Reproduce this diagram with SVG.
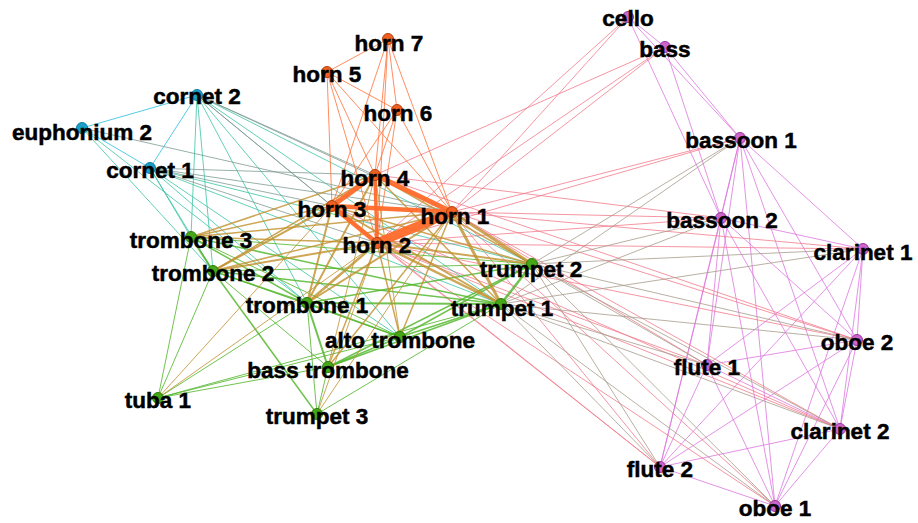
<svg xmlns="http://www.w3.org/2000/svg" width="918" height="523" viewBox="0 0 918 523">
<style>
line{stroke-width:1;stroke-opacity:.8;stroke-linecap:round}
.cc{stroke:#2bbfe0}
.cg{stroke:#3cc4a4}
.co{stroke:#7f9c94}
.oo{stroke:#ff7038}
.ot{stroke:#ff6a2a;stroke-opacity:.95}
.og{stroke:#c0902c}
.gg{stroke:#4cb424}
.op{stroke:#f27c8c}
.gp{stroke:#a89c8c}
.pp{stroke:#dd77e0}
circle{stroke-width:1}
.nc{fill:#1aa0c8;stroke:#0e7ea0}
.no{fill:#f06020;stroke:#b04010}
.ng{fill:#46a818;stroke:#2e7a0a}
.np{fill:#cc66cc;stroke:#993399}
text{font-family:"Liberation Sans",Arial,sans-serif;font-weight:bold;font-size:22.5px;text-anchor:middle;fill:#000;stroke:#000;stroke-width:.5}
</style>
<rect width="918" height="523" fill="#fff"/>
<g id="connectors">
<!-- pink internal -->
<line class="pp" x1="628" y1="17" x2="665" y2="47"/>
<line class="pp" x1="628" y1="17" x2="740" y2="138"/>
<line class="pp" x1="628" y1="17" x2="721" y2="218"/>
<line class="pp" x1="665" y1="47" x2="740" y2="138"/>
<line class="pp" x1="665" y1="47" x2="721" y2="218"/>
<line class="pp" x1="740" y1="138" x2="721" y2="218"/>
<line class="pp" x1="740" y1="138" x2="863" y2="249"/>
<line class="pp" x1="740" y1="138" x2="857" y2="340"/>
<line class="pp" x1="740" y1="138" x2="707" y2="365"/>
<line class="pp" x1="740" y1="138" x2="840" y2="429"/>
<line class="pp" x1="740" y1="138" x2="660" y2="467"/>
<line class="pp" x1="740" y1="138" x2="775" y2="506"/>
<line class="pp" x1="721" y1="218" x2="863" y2="249"/>
<line class="pp" x1="721" y1="218" x2="857" y2="340"/>
<line class="pp" x1="721" y1="218" x2="707" y2="365"/>
<line class="pp" x1="721" y1="218" x2="840" y2="429"/>
<line class="pp" x1="721" y1="218" x2="660" y2="467"/>
<line class="pp" x1="721" y1="218" x2="775" y2="506"/>
<line class="pp" x1="863" y1="249" x2="857" y2="340"/>
<line class="pp" x1="863" y1="249" x2="707" y2="365"/>
<line class="pp" x1="863" y1="249" x2="840" y2="429"/>
<line class="pp" x1="863" y1="249" x2="660" y2="467"/>
<line class="pp" x1="863" y1="249" x2="775" y2="506"/>
<line class="pp" x1="857" y1="340" x2="707" y2="365"/>
<line class="pp" x1="857" y1="340" x2="840" y2="429"/>
<line class="pp" x1="857" y1="340" x2="660" y2="467"/>
<line class="pp" x1="857" y1="340" x2="775" y2="506"/>
<line class="pp" x1="707" y1="365" x2="840" y2="429"/>
<line class="pp" x1="707" y1="365" x2="660" y2="467"/>
<line class="pp" x1="707" y1="365" x2="775" y2="506"/>
<line class="pp" x1="840" y1="429" x2="660" y2="467"/>
<line class="pp" x1="840" y1="429" x2="775" y2="506"/>
<line class="pp" x1="660" y1="467" x2="775" y2="506"/>
<!-- horn-pink -->
<line class="op" x1="452" y1="212" x2="628" y2="17"/>
<line class="op" x1="452" y1="212" x2="665" y2="47"/>
<line class="op" x1="452" y1="212" x2="740" y2="138"/>
<line class="op" x1="452" y1="212" x2="721" y2="218"/>
<line class="op" x1="452" y1="212" x2="863" y2="249"/>
<line class="op" x1="452" y1="212" x2="857" y2="340"/>
<line class="op" x1="452" y1="212" x2="707" y2="365"/>
<line class="op" x1="452" y1="212" x2="840" y2="429"/>
<line class="op" x1="452" y1="212" x2="660" y2="467"/>
<line class="op" x1="452" y1="212" x2="775" y2="506"/>
<line class="op" x1="377" y1="243" x2="628" y2="17"/>
<line class="op" x1="377" y1="243" x2="665" y2="47"/>
<line class="op" x1="377" y1="243" x2="740" y2="138"/>
<line class="op" x1="377" y1="243" x2="721" y2="218"/>
<line class="op" x1="377" y1="243" x2="863" y2="249"/>
<line class="op" x1="377" y1="243" x2="857" y2="340"/>
<line class="op" x1="377" y1="243" x2="707" y2="365"/>
<line class="op" x1="377" y1="243" x2="840" y2="429"/>
<line class="op" x1="377" y1="243" x2="660" y2="467"/>
<line class="op" x1="377" y1="243" x2="775" y2="506"/>
<line class="op" x1="375" y1="175" x2="665" y2="47"/>
<line class="op" x1="375" y1="175" x2="721" y2="218"/>
<line class="op" x1="375" y1="175" x2="857" y2="340"/>
<line class="op" x1="332" y1="206" x2="840" y2="429"/>
<line class="op" x1="332" y1="206" x2="660" y2="467"/>
<!-- trumpet-pink -->
<line class="gp" x1="532" y1="264" x2="740" y2="138"/>
<line class="gp" x1="532" y1="264" x2="721" y2="218"/>
<line class="gp" x1="532" y1="264" x2="863" y2="249"/>
<line class="gp" x1="532" y1="264" x2="857" y2="340"/>
<line class="gp" x1="532" y1="264" x2="707" y2="365"/>
<line class="gp" x1="532" y1="264" x2="840" y2="429"/>
<line class="gp" x1="532" y1="264" x2="660" y2="467"/>
<line class="gp" x1="532" y1="264" x2="775" y2="506"/>
<line class="gp" x1="501" y1="304" x2="740" y2="138"/>
<line class="gp" x1="501" y1="304" x2="721" y2="218"/>
<line class="gp" x1="501" y1="304" x2="863" y2="249"/>
<line class="gp" x1="501" y1="304" x2="857" y2="340"/>
<line class="gp" x1="501" y1="304" x2="707" y2="365"/>
<line class="gp" x1="501" y1="304" x2="840" y2="429"/>
<line class="gp" x1="501" y1="304" x2="660" y2="467"/>
<line class="gp" x1="501" y1="304" x2="775" y2="506"/>
<!-- cyan -->
<line class="cc" x1="197" y1="95" x2="82" y2="128"/>
<line class="cc" x1="197" y1="95" x2="150" y2="168"/>
<line class="cc" x1="82" y1="128" x2="150" y2="168"/>
<line class="cg" x1="197" y1="95" x2="191" y2="237"/>
<line class="cg" x1="197" y1="95" x2="213" y2="271"/>
<line class="cg" x1="197" y1="95" x2="307" y2="303"/>
<line class="cg" x1="197" y1="95" x2="532" y2="264"/>
<line class="cg" x1="197" y1="95" x2="501" y2="304"/>
<line class="cg" x1="197" y1="95" x2="400" y2="337"/>
<line class="cg" x1="150" y1="168" x2="191" y2="237"/>
<line class="cg" x1="150" y1="168" x2="213" y2="271"/>
<line class="cg" x1="150" y1="168" x2="307" y2="303"/>
<line class="cg" x1="150" y1="168" x2="532" y2="264"/>
<line class="cg" x1="150" y1="168" x2="501" y2="304"/>
<line class="cg" x1="150" y1="168" x2="400" y2="337"/>
<line class="cg" x1="82" y1="128" x2="213" y2="271"/>
<line class="cg" x1="82" y1="128" x2="307" y2="303"/>
<line class="co" x1="197" y1="95" x2="375" y2="175"/>
<line class="co" x1="197" y1="95" x2="452" y2="212"/>
<line class="co" x1="197" y1="95" x2="332" y2="206"/>
<line class="co" x1="197" y1="95" x2="377" y2="243"/>
<line class="co" x1="150" y1="168" x2="375" y2="175"/>
<line class="co" x1="150" y1="168" x2="332" y2="206"/>
<line class="co" x1="150" y1="168" x2="452" y2="212"/>
<line class="co" x1="150" y1="168" x2="377" y2="243"/>
<line class="co" x1="82" y1="128" x2="452" y2="212"/>
<!-- green internal -->
<line class="gg" x1="191" y1="237" x2="213" y2="271" style="stroke-width:2"/>
<line class="gg" x1="191" y1="237" x2="307" y2="303" style="stroke-width:1.5"/>
<line class="gg" x1="191" y1="237" x2="532" y2="264"/>
<line class="gg" x1="191" y1="237" x2="501" y2="304" style="stroke-width:1.5"/>
<line class="gg" x1="191" y1="237" x2="158" y2="398"/>
<line class="gg" x1="191" y1="237" x2="400" y2="337"/>
<line class="gg" x1="213" y1="271" x2="307" y2="303" style="stroke-width:1.5"/>
<line class="gg" x1="213" y1="271" x2="532" y2="264"/>
<line class="gg" x1="213" y1="271" x2="501" y2="304" style="stroke-width:1.5"/>
<line class="gg" x1="213" y1="271" x2="158" y2="398"/>
<line class="gg" x1="213" y1="271" x2="317" y2="414" style="stroke-width:1.5"/>
<line class="gg" x1="213" y1="271" x2="328" y2="367"/>
<line class="gg" x1="213" y1="271" x2="400" y2="337"/>
<line class="gg" x1="307" y1="303" x2="501" y2="304" style="stroke-width:2"/>
<line class="gg" x1="307" y1="303" x2="532" y2="264" style="stroke-width:1.5"/>
<line class="gg" x1="307" y1="303" x2="400" y2="337" style="stroke-width:1.5"/>
<line class="gg" x1="307" y1="303" x2="328" y2="367" style="stroke-width:2"/>
<line class="gg" x1="307" y1="303" x2="158" y2="398"/>
<line class="gg" x1="307" y1="303" x2="317" y2="414"/>
<line class="gg" x1="532" y1="264" x2="501" y2="304" style="stroke-width:2.5"/>
<line class="gg" x1="532" y1="264" x2="400" y2="337" style="stroke-width:1.5"/>
<line class="gg" x1="532" y1="264" x2="328" y2="367" style="stroke-width:1.5"/>
<line class="gg" x1="501" y1="304" x2="400" y2="337" style="stroke-width:1.5"/>
<line class="gg" x1="501" y1="304" x2="328" y2="367" style="stroke-width:1.5"/>
<line class="gg" x1="501" y1="304" x2="158" y2="398"/>
<line class="gg" x1="501" y1="304" x2="317" y2="414"/>
<line class="gg" x1="400" y1="337" x2="328" y2="367" style="stroke-width:1.5"/>
<line class="gg" x1="400" y1="337" x2="158" y2="398"/>
<line class="gg" x1="328" y1="367" x2="158" y2="398"/>
<line class="gg" x1="328" y1="367" x2="317" y2="414"/>
<!-- horn-green -->
<line class="og" x1="375" y1="175" x2="191" y2="237" style="stroke-width:1.5"/>
<line class="og" x1="375" y1="175" x2="213" y2="271" style="stroke-width:1.5"/>
<line class="og" x1="375" y1="175" x2="307" y2="303" style="stroke-width:2"/>
<line class="og" x1="375" y1="175" x2="532" y2="264" style="stroke-width:1.5"/>
<line class="og" x1="375" y1="175" x2="501" y2="304" style="stroke-width:1.5"/>
<line class="og" x1="375" y1="175" x2="400" y2="337"/>
<line class="og" x1="375" y1="175" x2="328" y2="367"/>
<line class="og" x1="332" y1="206" x2="191" y2="237" style="stroke-width:1.5"/>
<line class="og" x1="332" y1="206" x2="213" y2="271" style="stroke-width:2"/>
<line class="og" x1="332" y1="206" x2="307" y2="303" style="stroke-width:2"/>
<line class="og" x1="332" y1="206" x2="532" y2="264" style="stroke-width:1.5"/>
<line class="og" x1="332" y1="206" x2="501" y2="304" style="stroke-width:2"/>
<line class="og" x1="332" y1="206" x2="158" y2="398"/>
<line class="og" x1="452" y1="212" x2="191" y2="237" style="stroke-width:1.5"/>
<line class="og" x1="452" y1="212" x2="213" y2="271" style="stroke-width:1.5"/>
<line class="og" x1="452" y1="212" x2="307" y2="303" style="stroke-width:2"/>
<line class="og" x1="452" y1="212" x2="532" y2="264" style="stroke-width:3"/>
<line class="og" x1="452" y1="212" x2="501" y2="304" style="stroke-width:3"/>
<line class="og" x1="452" y1="212" x2="400" y2="337" style="stroke-width:1.5"/>
<line class="og" x1="452" y1="212" x2="328" y2="367" style="stroke-width:1.5"/>
<line class="og" x1="452" y1="212" x2="317" y2="414"/>
<line class="og" x1="377" y1="243" x2="191" y2="237" style="stroke-width:1.5"/>
<line class="og" x1="377" y1="243" x2="213" y2="271" style="stroke-width:2"/>
<line class="og" x1="377" y1="243" x2="307" y2="303" style="stroke-width:2.5"/>
<line class="og" x1="377" y1="243" x2="532" y2="264" style="stroke-width:2"/>
<line class="og" x1="377" y1="243" x2="501" y2="304" style="stroke-width:2.5"/>
<line class="og" x1="377" y1="243" x2="400" y2="337" style="stroke-width:1.5"/>
<line class="og" x1="377" y1="243" x2="328" y2="367" style="stroke-width:1.5"/>
<line class="og" x1="377" y1="243" x2="158" y2="398"/>
<line class="og" x1="377" y1="243" x2="317" y2="414"/>
<!-- horn internal -->
<line class="oo" x1="388" y1="39" x2="327" y2="72"/>
<line class="oo" x1="388" y1="39" x2="397" y2="110"/>
<line class="oo" x1="388" y1="39" x2="375" y2="175"/>
<line class="oo" x1="388" y1="39" x2="332" y2="206"/>
<line class="oo" x1="388" y1="39" x2="377" y2="243"/>
<line class="oo" x1="388" y1="39" x2="452" y2="212"/>
<line class="oo" x1="327" y1="72" x2="397" y2="110"/>
<line class="oo" x1="327" y1="72" x2="375" y2="175"/>
<line class="oo" x1="327" y1="72" x2="332" y2="206"/>
<line class="oo" x1="327" y1="72" x2="377" y2="243"/>
<line class="oo" x1="327" y1="72" x2="452" y2="212"/>
<line class="oo" x1="397" y1="110" x2="375" y2="175"/>
<line class="oo" x1="397" y1="110" x2="332" y2="206"/>
<line class="oo" x1="397" y1="110" x2="377" y2="243"/>
<line class="oo" x1="397" y1="110" x2="452" y2="212"/>
<line class="ot" x1="375" y1="175" x2="332" y2="206" style="stroke-width:5"/>
<line class="ot" x1="375" y1="175" x2="452" y2="212" style="stroke-width:5"/>
<line class="ot" x1="375" y1="175" x2="377" y2="243" style="stroke-width:3.5"/>
<line class="ot" x1="332" y1="206" x2="452" y2="212" style="stroke-width:4.5"/>
<line class="ot" x1="332" y1="206" x2="377" y2="243" style="stroke-width:4.5"/>
<line class="ot" x1="377" y1="243" x2="452" y2="212" style="stroke-width:9"/>
</g>
<g id="n-cornet2"><circle class="nc" cx="197" cy="95" r="5.5"/><text x="197" y="104">cornet 2</text></g>
<g id="n-euphonium2"><circle class="nc" cx="82" cy="128" r="5.5"/><text x="82" y="140">euphonium 2</text></g>
<g id="n-cornet1"><circle class="nc" cx="150" cy="168" r="5.5"/><text x="150" y="178">cornet 1</text></g>
<g id="n-horn7"><circle class="no" cx="388" cy="39" r="5.5"/><text x="389" y="51">horn 7</text></g>
<g id="n-horn5"><circle class="no" cx="327" cy="72" r="5.5"/><text x="327" y="82">horn 5</text></g>
<g id="n-horn6"><circle class="no" cx="397" cy="110" r="5.5"/><text x="398" y="121">horn 6</text></g>
<g id="n-horn4"><circle class="no" cx="375" cy="175" r="5.5"/><text x="375" y="186">horn 4</text></g>
<g id="n-horn3"><circle class="no" cx="332" cy="206" r="5.5"/><text x="332" y="217">horn 3</text></g>
<g id="n-horn1"><circle class="no" cx="452" cy="212" r="5.5"/><text x="455" y="224">horn 1</text></g>
<g id="n-horn2"><circle class="no" cx="377" cy="243" r="5.5"/><text x="377" y="253">horn 2</text></g>
<g id="n-trombone3"><circle class="ng" cx="191" cy="237" r="5.5"/><text x="191" y="248">trombone 3</text></g>
<g id="n-trombone2"><circle class="ng" cx="213" cy="271" r="5.5"/><text x="213" y="281">trombone 2</text></g>
<g id="n-trombone1"><circle class="ng" cx="307" cy="303" r="5.5"/><text x="307" y="313">trombone 1</text></g>
<g id="n-trumpet2"><circle class="ng" cx="532" cy="264" r="5.5"/><text x="531" y="277">trumpet 2</text></g>
<g id="n-trumpet1"><circle class="ng" cx="501" cy="304" r="5.5"/><text x="502" y="316">trumpet 1</text></g>
<g id="n-alto"><circle class="ng" cx="400" cy="337" r="5.5"/><text x="400" y="348">alto trombone</text></g>
<g id="n-bass-trombone"><circle class="ng" cx="328" cy="367" r="5.5"/><text x="328" y="378">bass trombone</text></g>
<g id="n-tuba1"><circle class="ng" cx="158" cy="398" r="5.5"/><text x="158" y="408">tuba 1</text></g>
<g id="n-trumpet3"><circle class="ng" cx="317" cy="414" r="5.5"/><text x="317" y="424">trumpet 3</text></g>
<g id="n-cello"><circle class="np" cx="628" cy="17" r="5.5"/><text x="628" y="26">cello</text></g>
<g id="n-bass"><circle class="np" cx="665" cy="47" r="5.5"/><text x="665" y="57">bass</text></g>
<g id="n-bassoon1"><circle class="np" cx="740" cy="138" r="5.5"/><text x="741" y="148">bassoon 1</text></g>
<g id="n-bassoon2"><circle class="np" cx="721" cy="218" r="5.5"/><text x="722" y="228">bassoon 2</text></g>
<g id="n-clarinet1"><circle class="np" cx="863" cy="249" r="5.5"/><text x="863" y="260">clarinet 1</text></g>
<g id="n-oboe2"><circle class="np" cx="857" cy="340" r="5.5"/><text x="857" y="350">oboe 2</text></g>
<g id="n-flute1"><circle class="np" cx="707" cy="365" r="5.5"/><text x="707" y="375">flute 1</text></g>
<g id="n-clarinet2"><circle class="np" cx="840" cy="429" r="5.5"/><text x="840" y="439">clarinet 2</text></g>
<g id="n-flute2"><circle class="np" cx="660" cy="467" r="5.5"/><text x="660" y="477">flute 2</text></g>
<g id="n-oboe1"><circle class="np" cx="775" cy="506" r="5.5"/><text x="775" y="516">oboe 1</text></g>
</svg>
